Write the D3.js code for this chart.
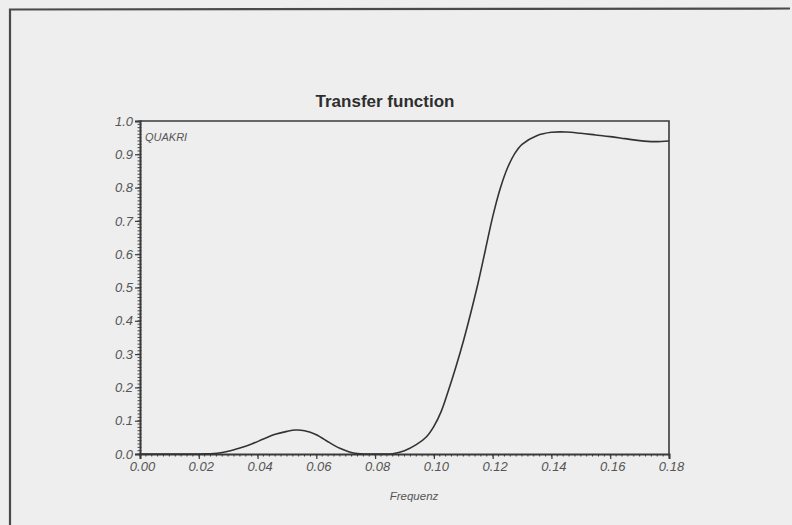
<!DOCTYPE html>
<html>
<head>
<meta charset="utf-8">
<script src="https://cdn.jsdelivr.net/npm/d3@7"></script>
<style>
  html, body { margin: 0; padding: 0; background: #eeeeee; }
  svg { display: block; }
  text { font-family: "Liberation Sans", Arial, sans-serif; }
</style>
</head>
<body>
<svg id="chart" width="792" height="525"></svg>
<script>
// Transfer function of the QUAKRI filter over frequency
const frequencies = [0.000, 0.010, 0.020, 0.0225, 0.025, 0.0275, 0.030, 0.034, 0.038, 0.042, 0.046,
  0.050, 0.053, 0.056, 0.060, 0.0645, 0.068, 0.071, 0.074, 0.077, 0.080, 0.083,
  0.086, 0.090, 0.094, 0.0975, 0.100, 0.1025, 0.105, 0.1075, 0.110, 0.1125, 0.115,
  0.1175, 0.120, 0.1225, 0.125, 0.1275, 0.130, 0.135, 0.140, 0.145, 0.150, 0.155,
  0.160, 0.165, 0.170, 0.175, 0.180];
const response = [0.000, 0.000, 0.000, 0.0005, 0.0015, 0.004, 0.008, 0.018, 0.030, 0.045, 0.059,
  0.068, 0.072, 0.070, 0.058, 0.034, 0.017, 0.007, 0.001, 0.000, 0.000, 0.000,
  0.001, 0.010, 0.028, 0.052, 0.083, 0.128, 0.192, 0.262, 0.338, 0.422, 0.512,
  0.612, 0.712, 0.795, 0.858, 0.902, 0.930, 0.956, 0.966, 0.967, 0.963, 0.958,
  0.953, 0.947, 0.941, 0.938, 0.940];
const xTickLabels = ["0.00", "0.02", "0.04", "0.06", "0.08", "0.10", "0.12", "0.14", "0.16", "0.18"];
const yTickLabels = ["0.0", "0.1", "0.2", "0.3", "0.4", "0.5", "0.6", "0.7", "0.8", "0.9", "1.0"];

const svg = d3.select("#chart");
const ink = "#3a3a3a";
const labelInk = "#555555";

// outer frame
svg.append("path")
  .attr("d", "M10,530 L10,9.5 L790,8.5")
  .attr("fill", "none")
  .attr("stroke", "#4a4a4a")
  .attr("stroke-width", 2.2);

const plotLeft = 140, plotRight = 669, plotTop = 121, plotBottom = 454;
const x = d3.scaleLinear().domain([0, 0.18]).range([plotLeft, plotRight]);
const y = d3.scaleLinear().domain([0, 1]).range([plotBottom, plotTop]);

// title
svg.append("text")
  .attr("x", 385).attr("y", 107)
  .attr("text-anchor", "middle")
  .attr("font-size", 17).attr("font-weight", "bold")
  .attr("fill", "#2e2e2e")
  .text("Transfer function");

// plot box top and right sides
svg.append("path")
  .attr("d", `M${plotLeft},${plotTop} H${plotRight} V${plotBottom}`)
  .attr("fill", "none").attr("stroke", ink).attr("stroke-width", 1.6);

// minor ticks
const xMinor = d3.range(0, 91).map(i => i * 0.002);
const yMinor = d3.range(0, 101).map(i => i * 0.01);

const xAxis = d3.axisBottom(x)
  .tickValues(xTickLabels.map(Number))
  .tickFormat((d, i) => xTickLabels[i])
  .tickSize(5).tickPadding(3);
const gx = svg.append("g").attr("transform", `translate(0,${plotBottom})`).call(xAxis);
svg.append("g").attr("transform", `translate(0,${plotBottom})`)
  .selectAll("line").data(xMinor).join("line")
  .attr("x1", d => x(d)).attr("x2", d => x(d))
  .attr("y1", 0).attr("y2", 2.5)
  .attr("stroke", ink).attr("stroke-width", 1);

const yAxis = d3.axisLeft(y)
  .tickValues(yTickLabels.map(Number))
  .tickFormat((d, i) => yTickLabels[i])
  .tickSize(5).tickPadding(2);
const gy = svg.append("g").attr("transform", `translate(${plotLeft},0)`).call(yAxis);
svg.append("g").attr("transform", `translate(${plotLeft},0)`)
  .selectAll("line").data(yMinor).join("line")
  .attr("x1", -2.5).attr("x2", 1.5)
  .attr("y1", d => y(d)).attr("y2", d => y(d))
  .attr("stroke", ink).attr("stroke-width", 0.9);

[gx, gy].forEach(g => {
  g.select(".domain").attr("stroke", ink).attr("stroke-width", 2);
  g.selectAll(".tick line").attr("stroke", ink).attr("stroke-width", 1.2);
  g.selectAll(".tick text")
    .attr("font-family", "'Liberation Sans', Arial, sans-serif")
    .attr("font-style", "italic")
    .attr("font-size", 13)
    .attr("fill", labelInk);
});
gx.selectAll(".tick text").attr("dx", 2);

// series label inside the plot
svg.append("text")
  .attr("x", 145).attr("y", 141)
  .attr("font-size", 11).attr("font-style", "italic")
  .attr("fill", labelInk)
  .text("QUAKRI");

// axis title
svg.append("text")
  .attr("x", 414).attr("y", 500)
  .attr("text-anchor", "middle")
  .attr("font-size", 11.5).attr("font-style", "italic")
  .attr("fill", labelInk)
  .text("Frequenz");

// response curve
const points = frequencies.map((f, i) => [f, response[i]]);
const line = d3.line()
  .x(d => x(d[0]))
  .y(d => y(d[1]))
  .curve(d3.curveCatmullRom.alpha(0.5));
svg.append("path")
  .datum(points)
  .attr("d", line)
  .attr("fill", "none")
  .attr("stroke", "#333333")
  .attr("stroke-width", 1.6);
</script>
</body>
</html>
